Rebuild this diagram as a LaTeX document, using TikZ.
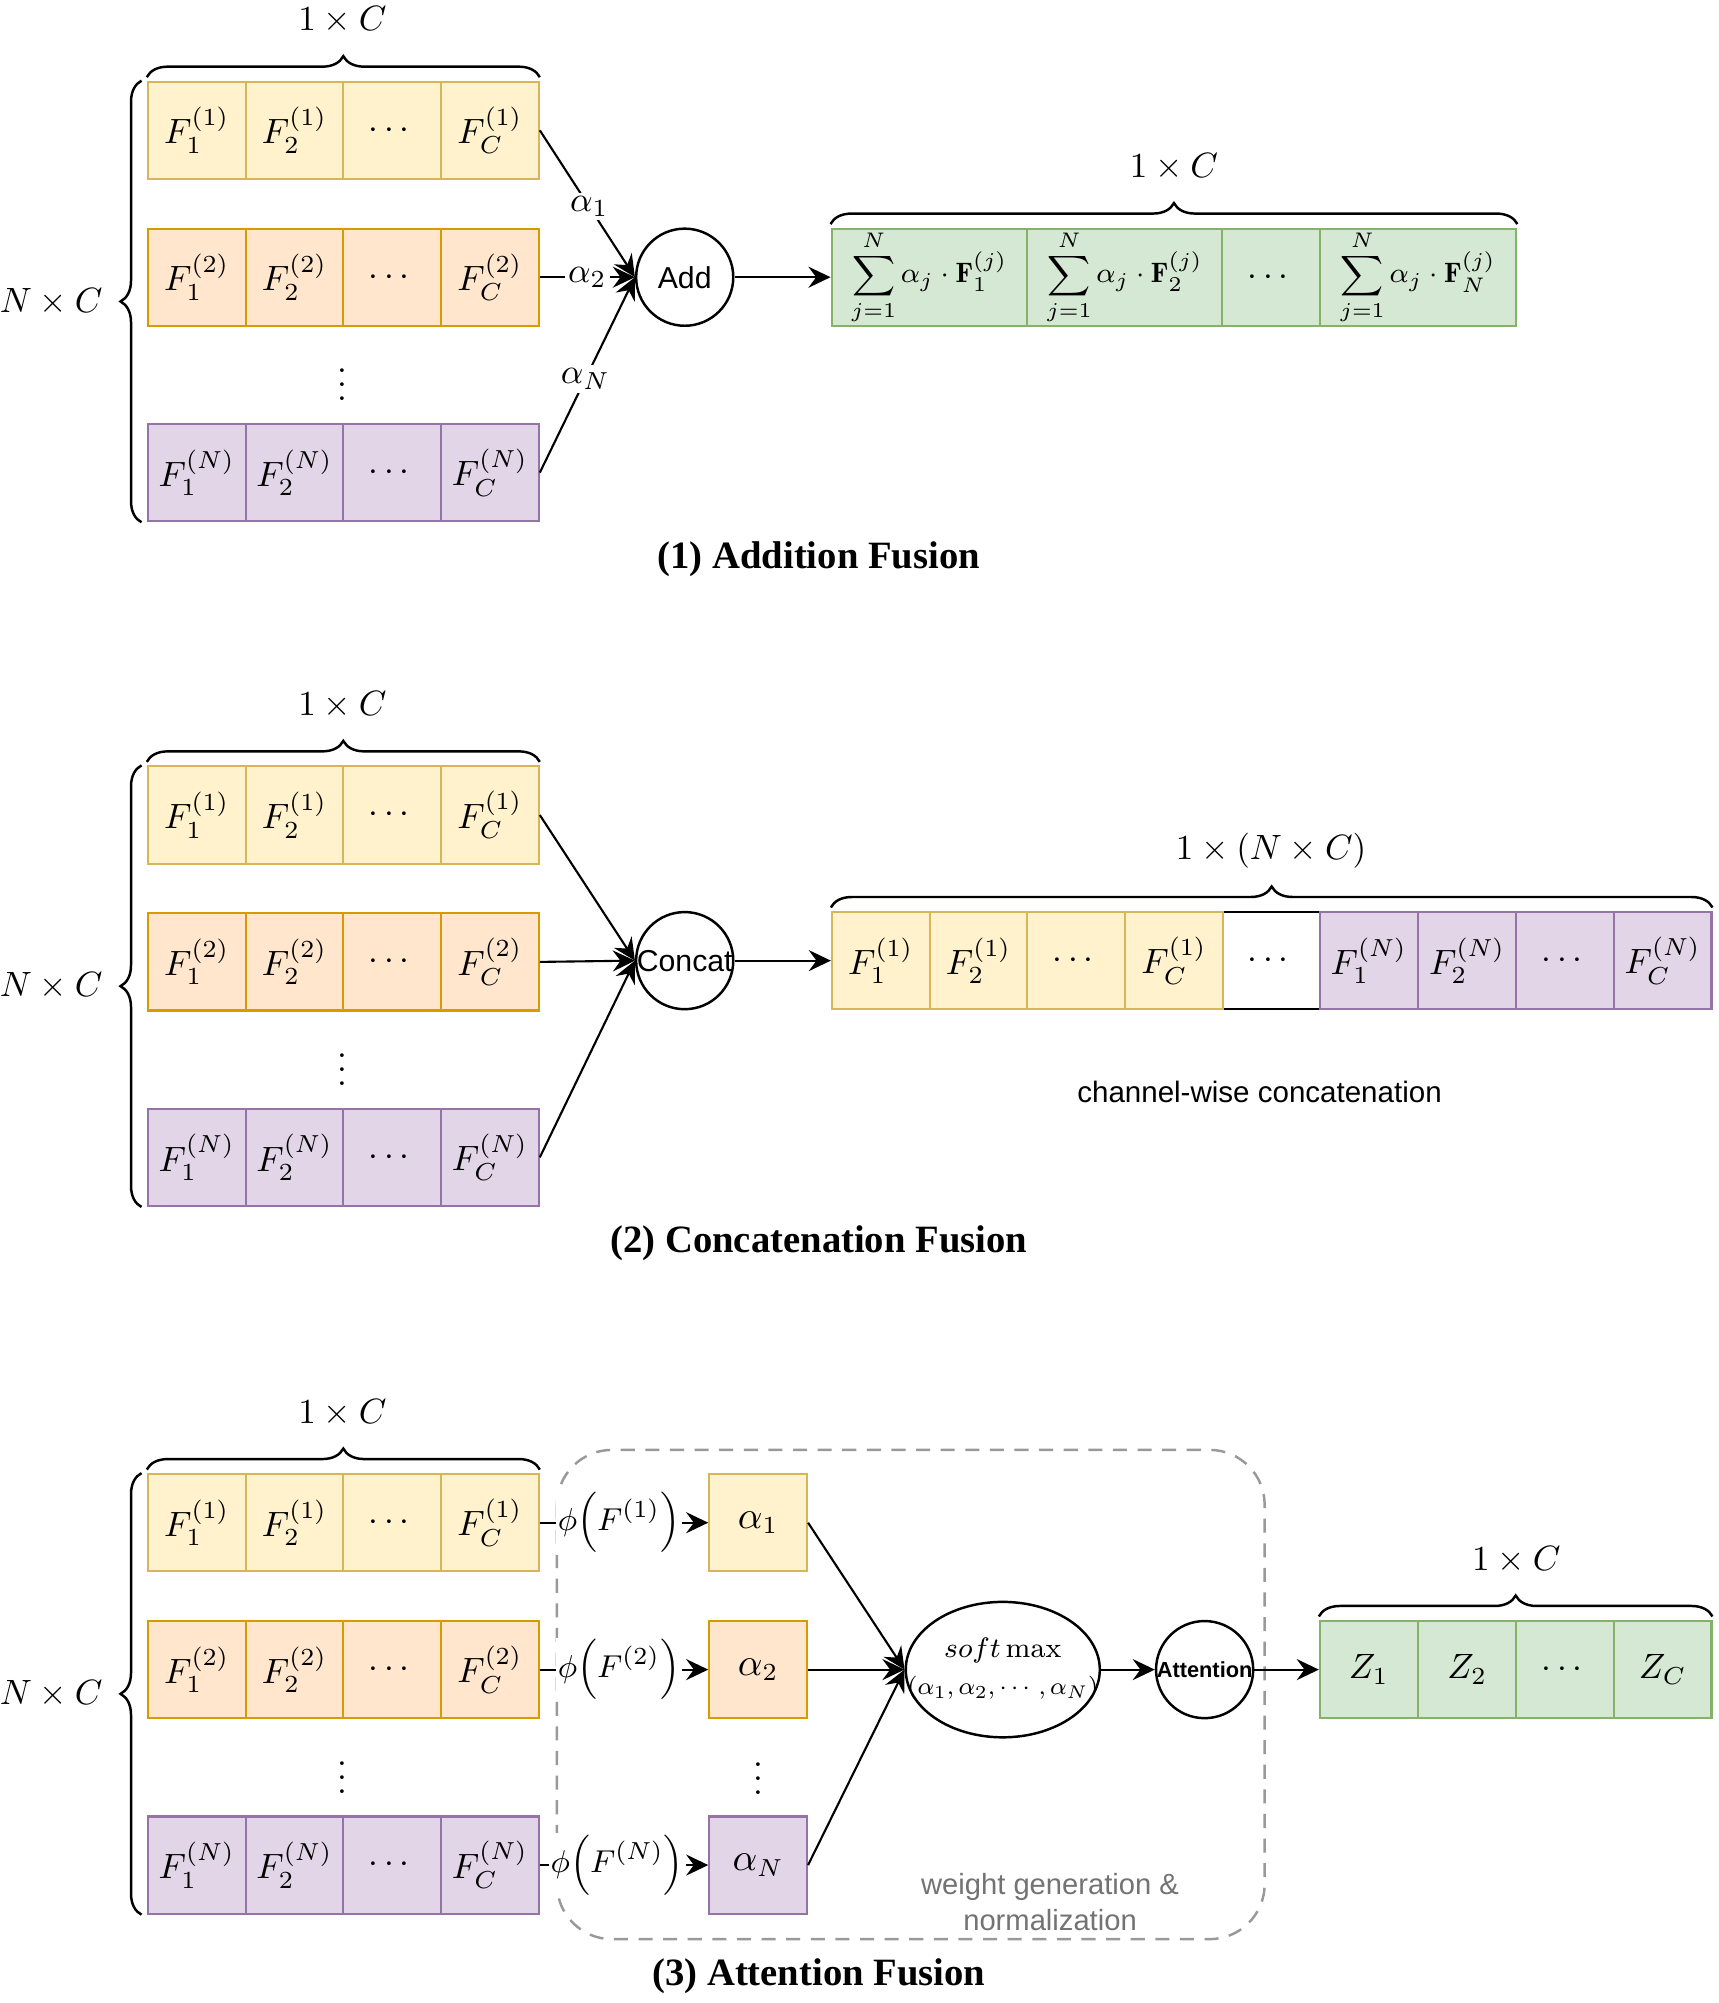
\documentclass[tikz,border=0pt]{standalone}
\usepackage{amsmath,amssymb}
\usepackage{fontspec}
\newfontfamily\arialf{Liberation Sans}
\newfontfamily\timesf{Liberation Serif}
\usetikzlibrary{arrows.meta,positioning,calc,shapes.geometric,decorations.pathreplacing}
\definecolor{yfill}{HTML}{FFF2CC}
\definecolor{yline}{HTML}{D6B656}
\definecolor{ofill}{HTML}{FFE6CC}
\definecolor{oline}{HTML}{D79B00}
\definecolor{pfill}{HTML}{E1D5E7}
\definecolor{pline}{HTML}{9673A6}
\definecolor{gfill}{HTML}{D5E8D4}
\definecolor{gline}{HTML}{82B366}

\begin{document}
\begin{tikzpicture}[x=0.012773cm,y=-0.012773cm,>={Stealth[length=6.3pt,width=6pt,inset=2.2pt]},
  cell/.style={draw,line width=0.6pt,minimum width=0.977cm,minimum height=0.971cm,
    inner sep=0pt,font=\fontsize{10}{12}\selectfont},
  rowy/.style={cell,fill=yfill,draw=yline},
  rowo/.style={cell,fill=ofill,draw=oline},
  rowp/.style={cell,fill=pfill,draw=pline},
  rowg/.style={cell,fill=gfill,draw=gline},
  conn/.style={->,line width=0.6pt},
  op/.style={circle,draw,line width=0.7pt,minimum size=0.971cm,inner sep=0pt,
    font=\arialf\fontsize{8.6}{10}\selectfont},
  brc/.style={decorate,decoration={brace,amplitude=0.21cm},line width=0.7pt},
  dimlab/.style={font=\fontsize{10}{12}\selectfont},
  wlab/.style={fill=white,inner sep=1pt,font=\fontsize{10}{12}\selectfont},
  sanstxt/.style={font=\arialf\fontsize{8.4}{10.2}\selectfont},
  figcap/.style={font=\timesf\bfseries\fontsize{11}{13}\selectfont}]
  \useasboundingbox (0,0) rectangle (1345,1568);

  % weight generation box (drawn first, labels cover it)
  \draw[dashed,black!40,line width=0.7pt,rounded corners=0.55cm,
    dash pattern=on 4pt off 3pt] (436,1135) rectangle (990,1518);

  % the three input stacks
  \foreach \s/\y in {a/102,b/638,c/1192} {
    \foreach \r/\dy/\st in {1/0/rowy,2/115/rowo,N/268/rowp} {
      \node[\st] (\s-\r-1) at (154,\y+\dy) {$F_1^{(\r)}$};
      \node[\st] (\s-\r-2) at (230.5,\y+\dy) {$F_2^{(\r)}$};
      \node[\st] (\s-\r-3) at (307,\y+\dy) {$\cdots$};
      \node[\st] (\s-\r-4) at (383.5,\y+\dy) {$F_C^{(\r)}$};
    }
    \node[font=\fontsize{10}{12}\selectfont] (\s-dots) at (268,\y+191) {$\vdots$};
    \draw[brc] ([yshift=1pt]\s-1-1.north west) -- ([yshift=1pt]\s-1-4.north east);
    \node[dimlab] (\s-dim) at (268,\y-86) {$1\times C$};
    \draw[brc] ([xshift=-1.5pt]\s-N-1.south west) -- ([xshift=-1.5pt]\s-1-1.north west);
    \node[dimlab] (\s-nc) at (40,\y+134) {$N\times C$};
  }

  % (1) addition
  \node[op] (add) at (536,217) {Add};
  \draw[conn] (a-1-4.east) -- (add.west) node[wlab,pos=0.52] (al1) {$\alpha_1$};
  \draw[conn] (a-2-4.east) -- (add.west) node[wlab,pos=0.5] (al2) {$\alpha_2$};
  \draw[conn] (a-N-4.east) -- (add.west) node[wlab,pos=0.48] (alN) {$\alpha_N$};
  \node[rowg,minimum width=1.954cm,font=\fontsize{8}{10}\selectfont] (sum1) at (727.5,217)
    {$\displaystyle\sum_{j=1}^{N}\alpha_j\cdot\mathbf{F}_1^{(j)}$};
  \node[rowg,minimum width=1.954cm,font=\fontsize{8}{10}\selectfont] (sum2) at (880.5,217)
    {$\displaystyle\sum_{j=1}^{N}\alpha_j\cdot\mathbf{F}_2^{(j)}$};
  \node[rowg] (sum3) at (995,217) {$\cdots$};
  \node[rowg,minimum width=1.967cm,font=\fontsize{8}{10}\selectfont] (sum4) at (1110,217)
    {$\displaystyle\sum_{j=1}^{N}\alpha_j\cdot\mathbf{F}_N^{(j)}$};
  \draw[conn] (add.east) -- (sum1.west);
  \draw[brc] ([yshift=1pt]sum1.north west) -- ([yshift=1pt]sum4.north east);
  \node[dimlab] (sumdim) at (919,131) {$1\times C$};
  \node[figcap] (cap1) at (641,438) {(1) Addition Fusion};

  % (2) concatenation
  \node[op] (concat) at (536,752) {\makebox[0pt]{Concat}};
  \foreach \r in {1,2,N}
    \draw[conn] (b-\r-4.east) -- (concat.west);
  \node[cell,draw=black] (cat5) at (995,752) {$\cdots$};
  \foreach \i/\x/\t in {1/689.5/F_1^{(1)},2/766/F_2^{(1)},3/842.5/\cdots,4/919/F_C^{(1)}}
    \node[rowy] (cat\i) at (\x,752) {$\t$};
  \foreach \i/\x/\t in {6/1071.5/F_1^{(N)},7/1148.5/F_2^{(N)},8/1225/\cdots,9/1301.5/F_C^{(N)}}
    \node[rowp] (cat\i) at (\x,752) {$\t$};
  \draw[conn] (concat.east) -- (cat1.west);
  \draw[brc] ([yshift=1pt]cat1.north west) -- ([yshift=1pt]cat9.north east);
  \node[dimlab] (catdim) at (995,666) {$1\times(N\times C)$};
  \node[sanstxt] (catnote) at (986,855) {channel-wise concatenation};
  \node[figcap] (cap2) at (641,973) {(2) Concatenation Fusion};

  % (3) attention
  \node[rowy,font=\fontsize{10.5}{12}\selectfont] (w1) at (593.5,1192) {$\alpha_1$};
  \node[rowo,font=\fontsize{10.5}{12}\selectfont] (w2) at (593.5,1307) {$\alpha_2$};
  \node[rowp,font=\fontsize{10.5}{12}\selectfont] (wN) at (593.5,1460) {$\alpha_N$};
  \node[font=\fontsize{10}{12}\selectfont] (wdots) at (594,1384) {$\vdots$};
  \foreach \r/\p in {1/0.47,2/0.47,N/0.46}
    \draw[conn] (c-\r-4.east) -- (w\r.west)
      node[wlab,inner sep=0.5pt,pos=\p,font=\fontsize{9.5}{11}\selectfont] (phi\r)
      {$\phi\Big(F^{(\r)}\Big)$};
  \node[ellipse,draw,line width=0.7pt,minimum width=1.94cm,minimum height=1.354cm,
    inner sep=0pt,label={[name=smtxt,align=center,
      font=\fontsize{8}{10.5}\selectfont]center:$soft\max$\\
      \scalebox{0.87}{$(\alpha_1,\alpha_2,\cdots,\alpha_N)$}}]
    (smax) at (785,1307) {};
  \foreach \r in {1,2,N}
    \draw[conn] (w\r.east) -- (smax.west);
  \node[op,font=\arialf\bfseries\fontsize{6.2}{8}\selectfont] (att) at (943,1307)
    {\makebox[0pt]{Attention}};
  \draw[conn] (smax.east) -- (att.west);
  \foreach \i/\x/\t in {1/1071.5/Z_1,2/1148.5/Z_2,3/1225/\cdots,4/1301.5/Z_C}
    \node[rowg] (z\i) at (\x,1307) {$\t$};
  \draw[conn] (att.east) -- (z1.west);
  \draw[brc] ([yshift=1pt]z1.north west) -- ([yshift=1pt]z4.north east);
  \node[dimlab] (zdim) at (1187,1221) {$1\times C$};
  \node[sanstxt,text=black!55,align=center,font=\arialf\fontsize{8.3}{10.2}\selectfont]
    (wgt) at (822,1489) {weight generation \&\\normalization};
  \node[figcap] (cap3) at (641,1547) {(3) Attention Fusion};
\end{tikzpicture}
\end{document}
